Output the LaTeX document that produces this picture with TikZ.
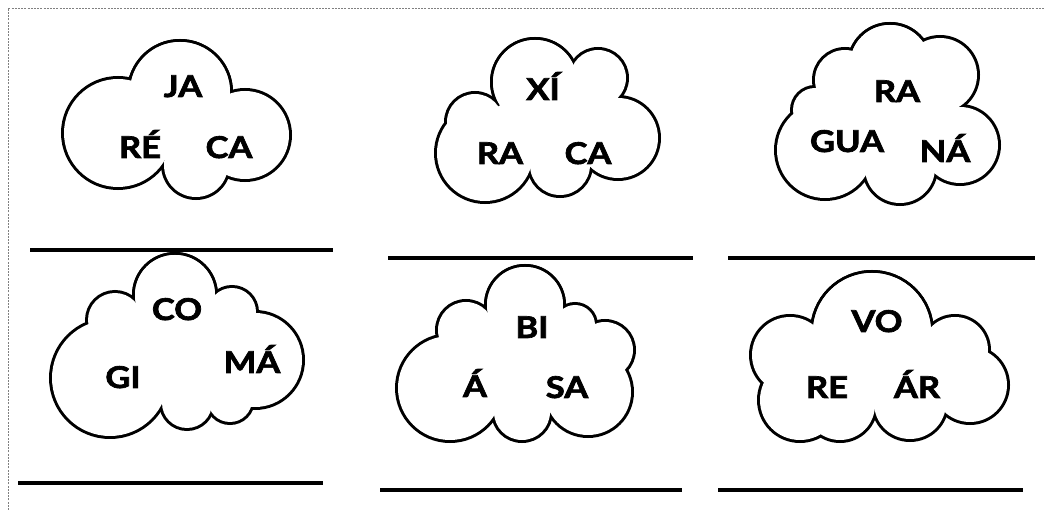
\documentclass[tikz,border=0pt]{standalone}
\usepackage{fontspec}
\setmainfont{Lato}[BoldFeatures={FakeBold=2.2}]
\usepackage{graphicx}
% #1: circles x/y/r in cyclic order (first repeated at end), #2: hub point
\newcommand\cloudshape[2]{%
  \foreach \cx/\cy/\cr in {#1} \draw[cloudline] (\cx,\cy) circle[radius=\cr pt];
  \foreach \cx/\cy/\cr in {#1} \fill[white] (\cx,\cy) circle[radius=\cr pt];
  \fill[white] (#2) \foreach \cx/\cy/\cr in {#1} { -- (\cx,\cy) } -- cycle;
}
\newcommand\syl[1]{\scalebox{1.15}[1]{#1}}
\begin{document}
\begin{tikzpicture}[x=1pt,y=-1pt,
  cloudline/.style={line width=6pt,black},
  wordtext/.style={anchor=base,inner sep=0pt,font=\bfseries\fontsize{30}{32}\selectfont},
  answerline/.style={line width=3.5pt,black},
  framestyle/.style={gray,line width=0.8pt,dash pattern=on 2pt off 1.2pt}]
\useasboundingbox (0,0) rectangle (1045,510);
\fill[white] (0,0) rectangle (1045,510);
% frame
\coordinate (fa) at (8,510);
\coordinate (fb) at (8,8);
\coordinate (fc) at (1045,8);
\draw[framestyle] (fa) -- (fb) -- (fc);
% clouds
\cloudshape{180/92/50,245/135/44,196/165/32,118/133/54,180/92/50}{180,135}
\cloudshape{535/82/42,598/78/28,618/138/40,560/165/30,485/153/48,475/122/28,535/82/42}{545,130}
\cloudshape{890/65/40,940/75/37,960/145/38,900/168/35,825/150/48,815/110/22,845/80/30,890/65/40}{890,120}
\cloudshape{175/295/40,232/312/24,255/360/47,230/400/22,187/403/25,110/378/58,115/320/27,175/295/40}{180,360}
\cloudshape{525/305/38,575/325/20,605/350/28,588/392/43,522/412/28,450/388/52,466/330/28,525/305/38}{525,370}
\cloudshape{872/332/59,955/350/33,970/385/37,910/403/36,840/405/35,800/400/40,790/355/38,872/332/59}{880,380}
% words
\node[wordtext] (ja) at (183,97) {\syl{JA}};
\node[wordtext] (re1) at (140,158) {\syl{RÉ}};
\node[wordtext] (ca1) at (229,158) {\syl{CA}};
\node[wordtext] (xi) at (543,100) {\syl{XÍ}};
\node[wordtext] (ra1) at (500,164) {\syl{RA}};
\node[wordtext] (ca2) at (588,164) {\syl{CA}};
\node[wordtext] (ra2) at (897,102) {\syl{RA}};
\node[wordtext] (gua) at (847,152) {\syl{GUA}};
\node[wordtext] (na) at (945,162) {\syl{NÁ}};
\node[wordtext] (co) at (177,320) {\syl{CO}};
\node[wordtext] (gi) at (123,388) {\syl{GI}};
\node[wordtext] (ma) at (252,373) {\syl{MÁ}};
\node[wordtext] (bi) at (532,338) {\syl{BI}};
\node[wordtext] (aa) at (475,397) {\syl{Á}};
\node[wordtext] (sa) at (567,398) {\syl{SA}};
\node[wordtext] (vo) at (877,332) {\syl{VO}};
\node[wordtext] (re2) at (827,398) {\syl{RE}};
\node[wordtext] (ar) at (917,398) {\syl{ÁR}};
% answer lines
\coordinate (l1a) at (30,250);  \coordinate (l1b) at (333,250);
\coordinate (l2a) at (388,258); \coordinate (l2b) at (693,258);
\coordinate (l3a) at (728,258); \coordinate (l3b) at (1035,258);
\coordinate (l4a) at (18,483);  \coordinate (l4b) at (323,483);
\coordinate (l5a) at (380,490); \coordinate (l5b) at (682,490);
\coordinate (l6a) at (718,490); \coordinate (l6b) at (1023,490);
\draw[answerline] (l1a) -- (l1b);
\draw[answerline] (l2a) -- (l2b);
\draw[answerline] (l3a) -- (l3b);
\draw[answerline] (l4a) -- (l4b);
\draw[answerline] (l5a) -- (l5b);
\draw[answerline] (l6a) -- (l6b);
\end{tikzpicture}
\end{document}
